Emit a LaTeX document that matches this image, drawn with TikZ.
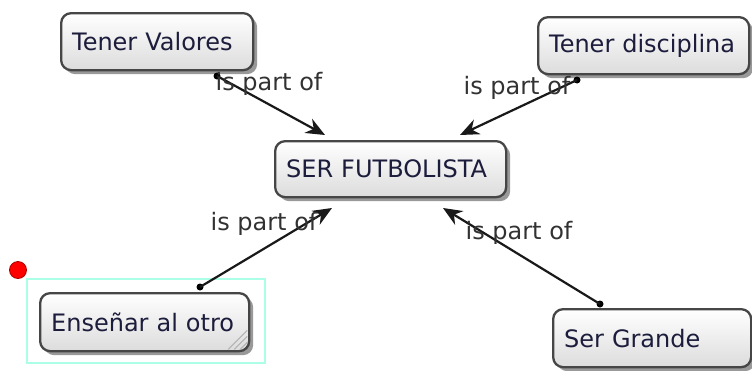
\documentclass[tikz,border=0pt]{standalone}
\usepackage{fontspec}
\setmainfont{DejaVu Sans}
\usetikzlibrary{arrows.meta,shadows,calc}
\definecolor{txt}{RGB}{28,28,60}
\definecolor{lbl}{RGB}{50,50,50}
\definecolor{bord}{RGB}{70,70,70}
\definecolor{selc}{RGB}{170,255,230}
\begin{document}
\begin{tikzpicture}[x=1pt,y=-1pt,
  concept/.style={draw=bord, line width=2.3pt, rounded corners=10pt,
    top color=white, bottom color={rgb,255:red,220;green,220;blue,220},
    anchor=north west, font=\fontsize{24}{28}\selectfont, text=txt,
    inner xsep=11pt, inner ysep=0pt, align=left,
    drop shadow={shadow xshift=4pt, shadow yshift=-4pt, fill=black, opacity=0.4}},
  linklbl/.style={font=\fontsize{24}{28}\selectfont, text=lbl, inner sep=0pt},
  dotnode/.style={circle, fill=black, inner sep=0pt, minimum size=7pt},
  conn/.style={draw={rgb,255:red,25;green,25;blue,25}, line width=2.2pt, -{Stealth[length=19pt,width=16pt]}}]
\useasboundingbox (0,0) rectangle (752,370);
% selection frame and marker
\draw[selc, line width=2.2pt] (27,279) rectangle (265,363);
\node[circle, fill=red, draw={rgb,255:red,170;green,0;blue,0}, line width=0.8pt, inner sep=0pt, minimum size=17pt] (mark) at (18,270) {};
% concepts
\node[concept, minimum width=192pt, minimum height=57pt, text width=170pt] (tv) at (60,12) {Tener Valores};
\node[concept, minimum width=211pt, minimum height=57pt, text width=189pt] (td) at (537,16) {Tener disciplina};
\node[concept, minimum width=231pt, minimum height=56pt, text width=209pt] (ser) at (274,140) {SER FUTBOLISTA};
\node[concept, minimum width=209pt, minimum height=58pt, text width=187pt] (ens) at (39,292) {Enseñar al otro};
\node[concept, minimum width=198pt, minimum height=58pt, text width=176pt] (sg) at (552,308) {Ser Grande};
% resize grip
\foreach \d in {10,16,22}
  \draw[gray!60, line width=1pt] ($(ens.south east)+(-\d pt,3pt)$) -- ($(ens.south east)+(-3pt,\d pt)$);
% connector ends
\node[dotnode] (d1) at (217,76) {};
\node[dotnode] (d2) at (577,80) {};
\node[dotnode] (d3) at (200,287) {};
\node[dotnode] (d4) at (600,304) {};
\coordinate (t1) at (325,135);
\coordinate (t2) at (460,135);
\coordinate (t3) at (332,208);
\coordinate (t4) at (443,208);
\draw[conn] (d1.center) -- (t1);
\draw[conn] (d2.center) -- (t2);
\draw[conn] (d3.center) -- (t3);
\draw[conn] (d4.center) -- (t4);
% labels
\node[linklbl] (l1) at (269,84) {is part of};
\node[linklbl] (l2) at (517,88) {is part of};
\node[linklbl] (l3) at (264,224) {is part of};
\node[linklbl] (l4) at (519,233) {is part of};
\end{tikzpicture}
\end{document}
